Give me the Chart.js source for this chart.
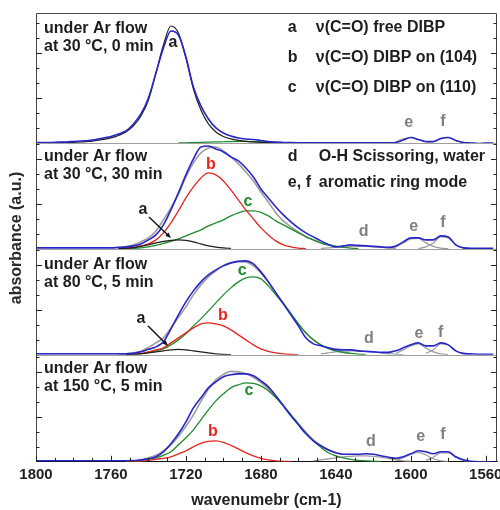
<!DOCTYPE html>
<html>
<head>
<meta charset="utf-8">
<script src="https://cdn.jsdelivr.net/npm/chart.js@4.4.1/dist/chart.umd.min.js"></script>
<style>
  html, body { margin: 0; padding: 0; background: #fff; }
  #wrap { width: 500px; height: 510px; }
</style>
</head>
<body>
<div id="wrap"><canvas id="ir-chart" width="500" height="510"></canvas></div>
<script>
const _ = null;

// wavenumber grid (cm-1), shared by every curve
const wn = [1800,1796,1792,1788,1784,1780,1776,1772,1768,1764,
            1760,1756,1752,1748,1744,1740,1736,1732,1728,1724,
            1720,1716,1712,1708,1704,1700,1696,1692,1688,1684,
            1680,1676,1672,1668,1664,1660,1656,1652,1648,1644,
            1640,1636,1632,1628,1624,1620,1616,1612,1608,1604,
            1600,1596,1592,1588,1584,1580,1576,1572,1568,1564,
            1560,1556];
const xTicks = [1800, 1760, 1720, 1680, 1640, 1600, 1560];

// panel 1: 30 °C, 0 min
const blueP1  = [0.5,0.5,0.5,0.8,1,1.5,2,2.5,3.5,5, 6.5,9,12,19,29,45,70,95,112,108, 86,56,37,24,15,10,7,5,4,3.5,
                 2.5,1.5,0.8,0.5,0.3,0.2,0.2,0.2,0.2,0.2, 0.2,0.2,0.2,0.2,0.2,0.2,0.2,0.2,0.5,3, 5.5,3.5,1.5,1.5,4.5,5.5,2.5,0.5,0,-0.5, 0,0];
const aP1     = [0,0,0,0.2,0.4,0.6,1,1.5,2.5,3.5, 5,7.5,11,17,27,43,70,98,117,110, 85,54,33,19,11,6.5,4,2.5,1.5,1,
                 0.6,0.3,0.1,0,_,_,_,_,_,_, _,_,_,_,_,_,_,_,_,_, _,_,_,_,_,_,_,_,_,_, _,_];
const cP1     = [_,_,_,_,_,_,_,_,_,_, _,_,_,_,_,_,_,_,_,0, 0.2,0.4,0.6,0.8,1,1.2,1.4,1.5,1.5,1.4,
                 1.2,0.9,0.6,0.3,0,_,_,_,_,_, _,_,_,_,_,_,_,_,_,_, _,_,_,_,_,_,_,_,_,_, _,_];
const eP1     = [_,_,_,_,_,_,_,_,_,_, _,_,_,_,_,_,_,_,_,_, _,_,_,_,_,_,_,_,_,_,
                 _,_,_,_,_,_,_,_,_,_, _,_,_,_,_,_,_,_,1,4, 5.5,3.5,1,0.3,_,_,_,_,_,_, _,_];
const fP1     = [_,_,_,_,_,_,_,_,_,_, _,_,_,_,_,_,_,_,_,_, _,_,_,_,_,_,_,_,_,_,
                 _,_,_,_,_,_,_,_,_,_, _,_,_,_,_,_,_,_,_,_, _,_,0.2,1,4,5.5,2.5,0.5,0,_, _,_];

// panel 2: 30 °C, 30 min
const blueP2  = [1,1,1,1,1,1,1,1,1,1, 1,1.5,2,3,5,9,14,24,39,56, 74,90,102,103,100,97,92,88,81,72,
                 60,51,42,34,27,21,16,12,8,4.5, 2,3,4,3.5,3,2.5,2,1.5,3,7, 11,11,9,9,13,12,4,1,0.5,0.5, 0.5,0.5];
const fitP2   = [_,_,_,_,_,_,_,_,_,_, _,1,2,4,7,11,18,29,41,55, 72,86,96,101,102,98,92,85,77,68,
                 57,47,36,28,22,17,12.5,9,6,4, 2.5,1.5,_,_,_,_,_,_,_,_, _,_,_,_,_,_,_,_,_,_, _,_];
const aP2     = [_,_,_,_,_,_,_,_,_,_, _,0.3,0.6,1.2,2.5,4,6,7.5,8.5,9, 8.5,7,5,3,1.8,1,0.5,_,_,_,
                 _,_,_,_,_,_,_,_,_,_, _,_,_,_,_,_,_,_,_,_, _,_,_,_,_,_,_,_,_,_, _,_];
const bP2     = [_,_,_,_,_,_,_,_,_,_, _,0.5,1,1.5,3,5,9,16,26,38, 51,62,71,76,74,68,59,49,39,30,
                 21,14,8,4,2,0.8,0.3,_,_,_, _,_,_,_,_,_,_,_,_,_, _,_,_,_,_,_,_,_,_,_, _,_];
const cP2     = [_,_,_,_,_,_,_,_,_,_, _,_,0.3,0.5,1,2,3.5,5.5,7.5,10, 13,16,19,23,26,29,33,36,38,38,
                 36.5,33,28,24,20,16,12,9,6,4, 2.5,1.5,0.8,0.3,_,_,_,_,_,_, _,_,_,_,_,_,_,_,_,_, _,_];
const dP2     = [_,_,_,_,_,_,_,_,_,_, _,_,_,_,_,_,_,_,_,_, _,_,_,_,_,_,_,_,_,_,
                 _,_,_,_,_,_,_,_,0.5,1, 1.5,2,2.5,2.5,2.5,2,1.5,1,0.5,_, _,_,_,_,_,_,_,_,_,_, _,_];
const eP2     = [_,_,_,_,_,_,_,_,_,_, _,_,_,_,_,_,_,_,_,_, _,_,_,_,_,_,_,_,_,_,
                 _,_,_,_,_,_,_,_,_,_, _,_,_,_,_,_,_,0.5,2,6, 10,10.5,6,2.5,0.8,0.2,_,_,_,_, _,_];
const fP2     = [_,_,_,_,_,_,_,_,_,_, _,_,_,_,_,_,_,_,_,_, _,_,_,_,_,_,_,_,_,_,
                 _,_,_,_,_,_,_,_,_,_, _,_,_,_,_,_,_,_,_,_, _,0.3,2,6,12,11,4,1,0.2,_, _,_];

// panel 3: 80 °C, 5 min
const blueP3  = [1,1,1,1,1,1,1,1,1,1, 1,1,1,1.5,3,5.5,8,13,26,40, 53,64,73,80,85,89,92,93.5,94,91,
                 83,73,62,51,40,29,17,11,9,7, 5.5,5,5,4,3.5,3,2.5,2.5,4,7, 10,12,9,9,12,10,4,1.5,1,0.5, 0.5,0.5];
const fitP3   = [_,_,_,_,_,_,_,_,_,_, _,0.5,1,2,3.7,7.5,12,17,27,37.5, 48,60,70,78,84,89.5,92,93.5,93,89,
                 82,73,62,52,41.5,31,22,15,10,6.5, 4,2.5,1.5,_,_,_,_,_,_,_, _,_,_,_,_,_,_,_,_,_, _,_];
const aP3     = [_,_,_,_,_,_,_,_,_,_, _,_,0.3,0.6,1,2,3,4,5,5.5, 5,4,3,2,1,0.5,0.2,_,_,_,
                 _,_,_,_,_,_,_,_,_,_, _,_,_,_,_,_,_,_,_,_, _,_,_,_,_,_,_,_,_,_, _,_];
const bP3     = [_,_,_,_,_,_,_,_,_,_, _,_,0.3,0.8,1.5,3,5,7,12,17, 22,27,31,32,31,29,25,20,15,10,
                 6,3.5,2,1,0.5,0.2,_,_,_,_, _,_,_,_,_,_,_,_,_,_, _,_,_,_,_,_,_,_,_,_, _,_];
const cP3     = [_,_,_,_,_,_,_,_,_,_, _,_,0.3,0.6,1.2,2.5,4,6,10,15, 21,29,36,44,52,60,67,73,77,78,
                 76,69,60,51,41,31,22,15,10,6.5, 4,2.5,1.5,0.8,0.3,_,_,_,_,_, _,_,_,_,_,_,_,_,_,_, _,_];
const dP3     = [_,_,_,_,_,_,_,_,_,_, _,_,_,_,_,_,_,_,_,_, _,_,_,_,_,_,_,_,_,_,
                 _,_,_,_,_,_,_,_,1,2, 3,3.5,4,4,3.5,3,2,1.2,0.6,0.2, _,_,_,_,_,_,_,_,_,_, _,_];
const eP3     = [_,_,_,_,_,_,_,_,_,_, _,_,_,_,_,_,_,_,_,_, _,_,_,_,_,_,_,_,_,_,
                 _,_,_,_,_,_,_,_,_,_, _,_,_,_,_,_,_,_,1.5,5, 9,11,7,3,1,0.3,_,_,_,_, _,_];
const fP3     = [_,_,_,_,_,_,_,_,_,_, _,_,_,_,_,_,_,_,_,_, _,_,_,_,_,_,_,_,_,_,
                 _,_,_,_,_,_,_,_,_,_, _,_,_,_,_,_,_,_,_,_, _,_,1.5,5,11,10,4,1,0.2,_, _,_];

// panel 4: 150 °C, 5 min
const blueP4  = [1,1,1,1,1,1,1,1,1,1, 1,1,1,1,2,3,5,10,18,28, 40,54,64,74,80,85,87,88,88,86,
                 81,75,66,56,46,37,28,21,16,12, 9,7.5,7.5,7.5,8,7.5,6,4.5,3.5,5, 8,11,10,8,10,10,5,2,0.5,0, 0,0];
const fitP4   = [_,_,_,_,_,_,_,_,_,_, _,_,1,1.5,2,4,6.5,11,17,25.5, 35.5,47,60.5,72.5,82,87.5,90.5,90,88,84.5,
                 79.5,73,65,56.5,47,38,29.5,22,16,11.5, 9,_,_,_,_,_,_,_,_,_, _,_,_,_,_,_,_,_,_,_, _,_];
const bP4     = [_,_,_,_,_,_,_,_,_,_, _,_,0.2,0.4,0.8,1.5,2.5,3.5,5,8, 11,15,18.5,20.5,21,19.5,16.5,13,9,6,
                 3.5,2,1,0.5,0.2,_,_,_,_,_, _,_,_,_,_,_,_,_,_,_, _,_,_,_,_,_,_,_,_,_, _,_];
const cP4     = [_,_,_,_,_,_,_,_,_,_, _,_,0.3,0.6,1.2,2.5,4,6.5,10,17, 24,32,42,52,61,68,74,77,79,78.5,
                 76,71,64,56,47,38,29,21,14.5,9, 6,4,2.5,1.5,1,0.5,0.2,_,_,_, _,_,_,_,_,_,_,_,_,_, _,_];
const dP4     = [_,_,_,_,_,_,_,_,_,_, _,_,_,_,_,_,_,_,_,_, _,_,_,_,_,_,_,_,_,_,
                 _,_,_,_,_,_,_,1,2,3, 4,5,5.5,6,6,5.5,4.5,3.5,2,1, 0.5,_,_,_,_,_,_,_,_,_, _,_];
const eP4     = [_,_,_,_,_,_,_,_,_,_, _,_,_,_,_,_,_,_,_,_, _,_,_,_,_,_,_,_,_,_,
                 _,_,_,_,_,_,_,_,_,_, _,_,_,_,_,_,_,_,1,4, 7.5,9.5,7,3,1,0.3,_,_,_,_, _,_];
const fP4     = [_,_,_,_,_,_,_,_,_,_, _,_,_,_,_,_,_,_,_,_, _,_,_,_,_,_,_,_,_,_,
                 _,_,_,_,_,_,_,_,_,_, _,_,_,_,_,_,_,_,_,_, _,_,1.5,4.5,9,9,4.5,1.5,0.3,_, _,_];

const panels = ['p1', 'p2', 'p3', 'p4'];
const panelHeights = [130, 106, 106, 107];
const panelTitles = [
    ['under Ar flow', 'at 30 °C, 0 min'],
    ['under Ar flow', 'at 30 °C, 30 min'],
    ['under Ar flow', 'at 80 °C, 5 min'],
    ['under Ar flow', 'at 150 °C, 5 min']
];
const legendKeys = ['a', 'b', 'c'];
const legendText = ['ν(C=O) free DIBP', 'ν(C=O) DIBP on (104)', 'ν(C=O) DIBP on (110)'];
const legend2Keys = ['d', 'e, f'];
const legend2Text = ['O-H Scissoring, water', 'aromatic ring mode'];

const BLUE = '#2626c9', RED = '#e3261f', GREEN = '#1f8c2b', BLACK = '#1e1e1e', GRAY = '#9c9c9c';
const FONT = '"Liberation Sans", Arial, Helvetica, sans-serif';

// peak letters: panel, text, wavenumber, height, colour
const peakLabels = [
    ['p1', 'a', 1726.9, 100, BLACK], ['p1', 'e', 1601.1, 20, '#808080'], ['p1', 'f', 1582.9, 21, '#808080'],
    ['p2', 'b', 1706.7, 84, RED], ['p2', 'c', 1686.9, 47, GREEN], ['p2', 'a', 1742.9, 39, BLACK],
    ['p2', 'd', 1625.1, 17, '#808080'], ['p2', 'e', 1598.4, 22, '#808080'], ['p2', 'f', 1582.9, 26, '#808080'],
    ['p3', 'c', 1690.0, 84, GREEN], ['p3', 'b', 1700.3, 39, RED], ['p3', 'a', 1744.0, 36, BLACK],
    ['p3', 'd', 1622.4, 16, '#808080'], ['p3', 'e', 1595.7, 21, '#808080'], ['p3', 'f', 1584.0, 22, '#808080'],
    ['p4', 'c', 1686.4, 71, GREEN], ['p4', 'b', 1705.6, 30, RED],
    ['p4', 'd', 1621.3, 20, '#808080'], ['p4', 'e', 1594.7, 25, '#808080'], ['p4', 'f', 1582.9, 27, '#808080']
];
// arrows pointing at the small "a" component
const arrows = [
    ['p2', 1739.7, 32, 1728.0, 11],
    ['p3', 1740.3, 29, 1729.6, 9]
];

function series(values) {
    return wn.map((w, i) => ({ x: w, y: values[i] }));
}

function curve(panel, values, color, width, order) {
    return {
        data: series(values),
        yAxisID: panel,
        borderColor: color,
        borderWidth: width,
        pointRadius: 0,
        fill: false,
        cubicInterpolationMode: 'monotone',
        spanGaps: false,
        order: order
    };
}

const datasets = [
    curve('p1', blueP1, BLUE, 1.6, 0), curve('p1', aP1, BLACK, 1.2, 1), curve('p1', cP1, GREEN, 1.2, 1),
    curve('p1', eP1, GRAY, 1.2, 2), curve('p1', fP1, GRAY, 1.2, 2),

    curve('p2', blueP2, BLUE, 1.6, 0), curve('p2', fitP2, GRAY, 1.6, 3), curve('p2', aP2, BLACK, 1.2, 1),
    curve('p2', bP2, RED, 1.3, 1), curve('p2', cP2, GREEN, 1.3, 1),
    curve('p2', dP2, GRAY, 1.2, 2), curve('p2', eP2, GRAY, 1.2, 2), curve('p2', fP2, GRAY, 1.2, 2),

    curve('p3', blueP3, BLUE, 1.6, 0), curve('p3', fitP3, GRAY, 1.6, 3), curve('p3', aP3, BLACK, 1.2, 1),
    curve('p3', bP3, RED, 1.3, 1), curve('p3', cP3, GREEN, 1.3, 1),
    curve('p3', dP3, GRAY, 1.2, 2), curve('p3', eP3, GRAY, 1.2, 2), curve('p3', fP3, GRAY, 1.2, 2),

    curve('p4', blueP4, BLUE, 1.6, 0), curve('p4', fitP4, GRAY, 1.6, 3),
    curve('p4', bP4, RED, 1.3, 1), curve('p4', cP4, GREEN, 1.3, 1),
    curve('p4', dP4, GRAY, 1.2, 2), curve('p4', eP4, GRAY, 1.2, 2), curve('p4', fP4, GRAY, 1.2, 2)
];

const scales = {
    x: {
        type: 'linear',
        reverse: true,
        min: 1554,
        max: 1800,
        position: 'bottom',
        afterBuildTicks: scale => { scale.ticks = xTicks.map(v => ({ value: v })); },
        grid: { display: false, drawTicks: false },
        border: { display: true, color: '#111', width: 1 },
        ticks: { display: false },
        title: {
            display: true,
            text: 'wavenumebr (cm-1)',
            color: '#222',
            font: { family: FONT, size: 16, weight: 'bold' },
            padding: { top: 29, bottom: 0 }
        }
    }
};
panels.forEach((id, k) => {
    scales[id] = {
        type: 'linear',
        position: 'right',
        stack: 'panels',
        stackWeight: panelHeights[k],
        min: 0,
        max: panelHeights[k],
        ticks: { display: false },
        grid: { display: false, drawTicks: false },
        border: { display: false }
    };
});

// frame, inward ticks, labels and arrows
const decor = {
    id: 'decor',
    afterDraw(chart) {
        const { ctx, chartArea: a, scales: s } = chart;
        const X = w => s.x.getPixelForValue(w);
        const Y = (p, v) => s[p].getPixelForValue(v);
        ctx.save();

        // panel separators (zero lines)
        ctx.strokeStyle = '#a0a0a0';
        ctx.lineWidth = 1.2;
        panels.slice(0, 3).forEach(p => {
            const y = Math.round(Y(p, 0)) + 0.5;
            ctx.beginPath(); ctx.moveTo(a.left, y); ctx.lineTo(a.right, y); ctx.stroke();
        });

        // frame
        ctx.strokeStyle = '#444';
        ctx.lineWidth = 1;
        ctx.beginPath();
        ctx.moveTo(a.left + 0.5, a.bottom); ctx.lineTo(a.left + 0.5, a.top + 0.5);
        ctx.lineTo(a.right - 0.5, a.top + 0.5); ctx.lineTo(a.right - 0.5, a.bottom);
        ctx.stroke();

        // x ticks, pointing inward, and their labels
        ctx.strokeStyle = '#222';
        for (let v = 1800; v >= 1560; v -= 10) {
            const x = Math.round(X(v)) + 0.5;
            const len = v % 40 === 0 ? 6 : 4;
            ctx.beginPath(); ctx.moveTo(x, a.bottom); ctx.lineTo(x, a.bottom - len); ctx.stroke();
        }
        ctx.textBaseline = 'middle';
        ctx.textAlign = 'center';
        ctx.font = 'bold 15px ' + FONT;
        ctx.fillStyle = '#1e1e1e';
        xTicks.forEach(v => ctx.fillText(String(v), X(v), a.bottom + 13));

        // y ticks on both sides of every panel
        panels.forEach((p, k) => {
            let n = 0;
            for (let v = 15; v < panelHeights[k]; v += 15) {
                n++;
                const y = Math.round(Y(p, v)) + 0.5;
                const len = n % 3 === 0 ? 6 : 3.5;
                ctx.beginPath();
                ctx.moveTo(a.left, y); ctx.lineTo(a.left + len, y);
                ctx.moveTo(a.right, y); ctx.lineTo(a.right - len, y);
                ctx.stroke();
            }
        });

        ctx.textAlign = 'left';
        ctx.font = 'bold 16px ' + FONT;
        const titleY = [[114, 96], [92, 74], [90, 72], [93, 75]];
        panels.forEach((p, k) => {
            ctx.fillText(panelTitles[k][0], X(1795.7), Y(p, titleY[k][0]));
            ctx.fillText(panelTitles[k][1], X(1795.7), Y(p, titleY[k][1]));
        });

        const legY = [115, 85, 55];
        legendKeys.forEach((key, i) => {
            ctx.fillText(key, X(1665.6), Y('p1', legY[i]));
            ctx.fillText(legendText[i], X(1650.7), Y('p1', legY[i]));
        });
        const leg2Y = [92, 66];
        legend2Keys.forEach((key, i) => {
            ctx.fillText(key, X(1665.6), Y('p2', leg2Y[i]));
            ctx.fillText(legend2Text[i], X(1649.1), Y('p2', leg2Y[i]));
        });

        ctx.font = 'bold 16px ' + FONT;
        ctx.textAlign = 'center';
        peakLabels.forEach(([p, t, w, v, c]) => {
            ctx.fillStyle = c;
            ctx.fillText(t, X(w), Y(p, v));
        });

        // arrows
        ctx.strokeStyle = '#111';
        ctx.fillStyle = '#111';
        ctx.lineWidth = 1.4;
        arrows.forEach(([p, w1, v1, w2, v2]) => {
            const x1 = X(w1), y1 = Y(p, v1), x2 = X(w2), y2 = Y(p, v2);
            const ang = Math.atan2(y2 - y1, x2 - x1);
            ctx.beginPath(); ctx.moveTo(x1, y1); ctx.lineTo(x2 - 4 * Math.cos(ang), y2 - 4 * Math.sin(ang)); ctx.stroke();
            ctx.beginPath();
            ctx.moveTo(x2, y2);
            ctx.lineTo(x2 - 6 * Math.cos(ang - 0.4), y2 - 6 * Math.sin(ang - 0.4));
            ctx.lineTo(x2 - 6 * Math.cos(ang + 0.4), y2 - 6 * Math.sin(ang + 0.4));
            ctx.closePath(); ctx.fill();
        });

        // y axis title
        ctx.fillStyle = '#2a2a2a';
        ctx.font = 'bold 16px ' + FONT;
        ctx.translate(17, 238);
        ctx.rotate(-Math.PI / 2);
        ctx.fillText('absorbance (a.u.)', 0, 0);
        ctx.restore();
    }
};

new Chart(document.getElementById('ir-chart'), {
    type: 'line',
    data: { datasets: datasets },
    options: {
        responsive: false,
        animation: false,
        devicePixelRatio: 1,
        layout: { padding: { left: 36, right: 3, top: 13, bottom: 0 } },
        plugins: { legend: { display: false }, tooltip: { enabled: false } },
        scales: scales
    },
    plugins: [decor]
});
</script>
</body>
</html>
